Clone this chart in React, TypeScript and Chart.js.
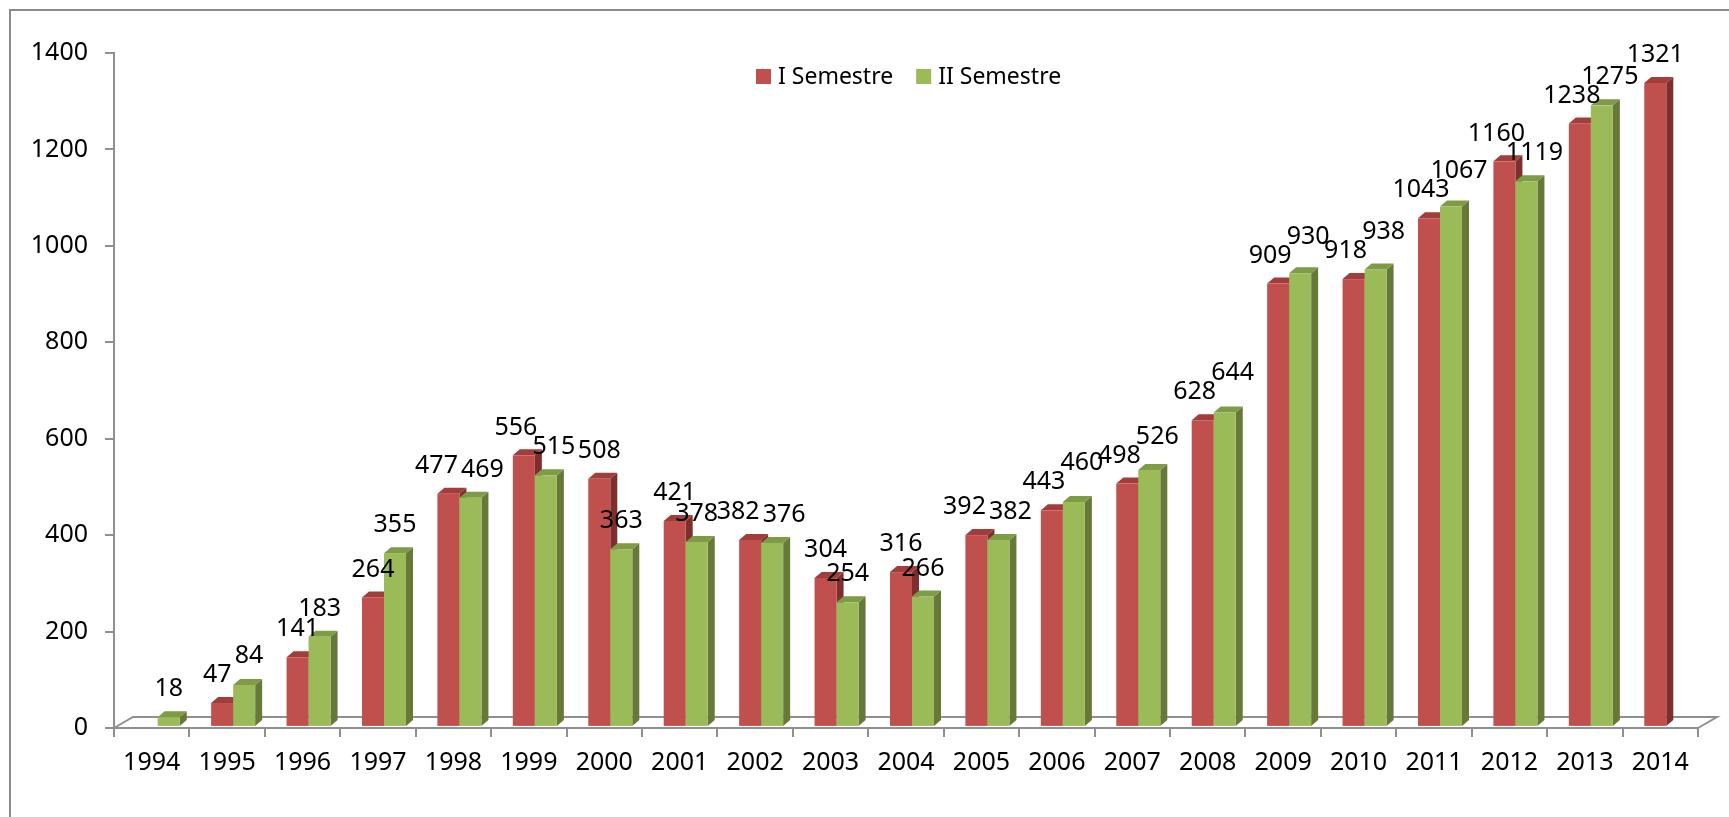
import React, { useEffect, useRef } from "react";
import { Chart, registerables } from "chart.js";

Chart.register(...registerables);

const years = ["1994","1995","1996","1997","1998","1999","2000","2001","2002","2003","2004","2005","2006","2007","2008","2009","2010","2011","2012","2013","2014"];
const semestre1: (number | null)[] = [null,47,141,264,477,556,508,421,382,304,316,392,443,498,628,909,918,1043,1160,1238,1321];
const semestre2: (number | null)[] = [18,84,183,355,469,515,363,378,376,254,266,382,460,526,644,930,938,1067,1119,1275,null];
const yTicks = [0, 200, 400, 600, 800, 1000, 1200, 1400];

const seriesNames = ["I Semestre", "II Semestre"];
const frontColors = ["#C0504D", "#9BBB59"];
const topColors = ["#A13D3A", "#7E9B45"];
const sideColors = ["#7E2F2D", "#66793A"];

const FONT = '"Noto Sans", "Open Sans", sans-serif';
const FONT_SIZE = 25;
const LEGEND_SIZE = 23;
const AXIS_GRAY = "#8f8f8f";

const bar3d = {
  id: "bar3d",
  beforeDatasetsDraw(chart: any) {
    const ctx = chart.ctx;
    const ca = chart.chartArea;
    const fdx = 19, fdy = -11;
    ctx.save();
    ctx.strokeStyle = AXIS_GRAY;
    ctx.lineWidth = 2;
    ctx.beginPath();
    ctx.moveTo(ca.left, ca.bottom);
    ctx.lineTo(ca.left + fdx, ca.bottom + fdy);
    ctx.lineTo(ca.right + fdx, ca.bottom + fdy);
    ctx.lineTo(ca.right, ca.bottom);
    ctx.stroke();
    ctx.restore();

    const shift = 6, ddx = 7, ddy = -6;
    const n = chart.data.labels.length;
    for (let i = 0; i < n; i++) {
      chart.data.datasets.forEach((ds: any, d: number) => {
        if (ds.data[i] == null) return;
        const el = chart.getDatasetMeta(d).data[i];
        if (!el) return;
        const x0 = el.x - el.width / 2 + shift;
        const x1 = el.x + el.width / 2 + shift;
        const yt = el.y;
        const yb = el.base;
        ctx.save();
        ctx.fillStyle = sideColors[d];
        ctx.beginPath();
        ctx.moveTo(x1, yb);
        ctx.lineTo(x1, yt);
        ctx.lineTo(x1 + ddx, yt + ddy);
        ctx.lineTo(x1 + ddx, yb + ddy);
        ctx.closePath();
        ctx.fill();
        ctx.fillStyle = topColors[d];
        ctx.beginPath();
        ctx.moveTo(x0, yt);
        ctx.lineTo(x1, yt);
        ctx.lineTo(x1 + ddx, yt + ddy);
        ctx.lineTo(x0 + ddx, yt + ddy);
        ctx.closePath();
        ctx.fill();
        ctx.fillStyle = frontColors[d];
        ctx.fillRect(x0, yt, x1 - x0, yb - yt);
        ctx.restore();
      });
    }
    return false;
  },
  afterDraw(chart: any) {
    const ctx = chart.ctx;
    const shift = 6;
    ctx.save();
    ctx.font = `${FONT_SIZE}px ${FONT}`;
    ctx.fillStyle = "#000";
    ctx.textAlign = "center";
    ctx.textBaseline = "middle";
    const n = chart.data.labels.length;
    for (let i = 0; i < n; i++) {
      const items: any[] = [];
      chart.data.datasets.forEach((ds: any, d: number) => {
        const v = ds.data[i];
        if (v == null) return;
        const el = chart.getDatasetMeta(d).data[i];
        const txt = String(v);
        items.push({ txt, x: el.x + shift, y: el.y - 28, w: ctx.measureText(txt).width });
      });
      if (items.length === 2) {
        const [a, b] = items;
        const overlap = (a.x + a.w / 2 + 3) - (b.x - b.w / 2);
        const dy = Math.abs(a.y - b.y);
        if (overlap > 0 && dy < 20) {
          if (dy < 6) {
            a.x -= overlap / 2;
            b.x += overlap / 2;
          } else {
            const s = Math.min(overlap / 2, 8);
            a.x -= s;
            b.x += s;
            const hi = a.y < b.y ? a : b;
            const lo = hi === a ? b : a;
            hi.y = lo.y - 19;
          }
        }
      }
      items.forEach((it) => ctx.fillText(it.txt, it.x, it.y));
    }
    ctx.font = `${LEGEND_SIZE}px ${FONT}`;
    const lx = 756, ly = 69, sz = 15;
    ctx.textAlign = "left";
    let x = lx;
    seriesNames.forEach((name, d) => {
      ctx.fillStyle = frontColors[d];
      ctx.fillRect(x, ly, sz, sz);
      ctx.fillStyle = "#000";
      ctx.fillText(name, x + sz + 7, ly + sz / 2 + 1);
      x += sz + 7 + ctx.measureText(name).width + 23;
    });
    ctx.strokeStyle = "#8a8a8a";
    ctx.lineWidth = 2;
    ctx.beginPath();
    ctx.moveTo(10, chart.height + 5);
    ctx.lineTo(10, 10);
    ctx.lineTo(chart.width + 5, 10);
    ctx.stroke();
    ctx.restore();
  },
};

export default function App() {
  const ref = useRef<HTMLCanvasElement | null>(null);
  useEffect(() => {
    document.body.style.margin = "0";
    document.body.style.overflow = "hidden";
    const canvas = ref.current!;
    const chart = new Chart(canvas, {
      type: "bar",
      data: {
        labels: years,
        datasets: [
          { label: seriesNames[0], data: semestre1, backgroundColor: frontColors[0], yAxisID: "yb" },
          { label: seriesNames[1], data: semestre2, backgroundColor: frontColors[1], yAxisID: "yb" },
        ],
      },
      options: {
        animation: false,
        responsive: false,
        devicePixelRatio: 1,
        datasets: { bar: { categoryPercentage: 0.5836, barPercentage: 1 } },
        layout: { padding: { top: 53, right: 31, left: 0, bottom: 0 } },
        plugins: { legend: { display: false }, tooltip: { enabled: false } },
        scales: {
          x: {
            offset: true,
            grid: { display: true, drawOnChartArea: false, offset: true, tickLength: 9, color: AXIS_GRAY, lineWidth: 2 },
            border: { display: true, color: AXIS_GRAY, width: 2 },
            ticks: { font: { family: FONT, size: FONT_SIZE }, color: "#000", padding: 11, maxRotation: 0, autoSkip: false },
            afterFit: (s: any) => { s.height = 89; },
          },
          y: {
            position: "left",
            min: 0,
            max: 1400,
            afterBuildTicks: (s: any) => { s.ticks = yTicks.map((v) => ({ value: v })); },
            grid: { display: true, drawOnChartArea: false, tickLength: 9, color: AXIS_GRAY, lineWidth: 2 },
            border: { display: true, color: AXIS_GRAY, width: 2 },
            ticks: { font: { family: FONT, size: FONT_SIZE }, color: "#000", padding: 17, callback: (v: any) => String(v) },
            afterFit: (s: any) => { s.width = 114; },
          },
          yb: {
            display: false,
            min: -4.3,
            max: 1382.6,
          },
        },
      },
      plugins: [bar3d],
    } as any);
    return () => chart.destroy();
  }, []);
  return (
    <canvas
      ref={ref}
      width={1729}
      height={817}
      style={{ position: "absolute", left: 0, top: 0, width: 1729, height: 817 }}
    />
  );
}
